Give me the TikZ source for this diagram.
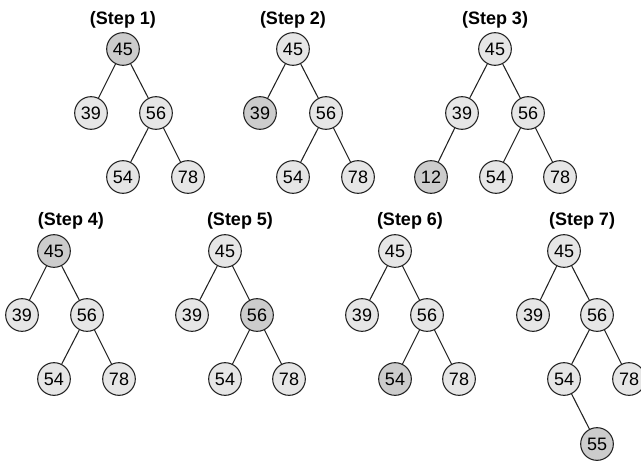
\documentclass[tikz,border=0pt]{standalone}
\usepackage{fontspec}
\setmainfont{Liberation Sans}
\usepackage{tikz}
\usetikzlibrary{positioning}
\definecolor{heaplight}{HTML}{E6E6E6}
\definecolor{heapmark}{HTML}{CCCCCC}
\definecolor{heapline}{HTML}{222222}

\begin{document}
\begin{tikzpicture}[
    x=0.75pt, y=-0.75pt,
    key/.style={circle, draw=heapline, line width=0.8pt, fill=heaplight, minimum size=24.5pt, inner sep=0pt, font=\fontsize{13.5}{16}\selectfont},
    marked/.style={key, fill=heapmark},
    title/.style={font=\fontsize{13.5}{16}\selectfont\bfseries},
    link/.style={draw=heapline, line width=0.8pt}
]
\useasboundingbox (0,0) rectangle (641,460);

% Step 1
\node[title] (t1) at (123,20) {(Step 1)};
\node[marked] (a45) at (123,49) {45};
\node[key] (a39) at (91,113) {39};
\node[key] (a56) at (156,113) {56};
\node[key] (a54) at (123,177) {54};
\node[key] (a78) at (188,177) {78};

% Step 2
\node[title] (t2) at (293,20) {(Step 2)};
\node[key] (b45) at (293,49) {45};
\node[marked] (b39) at (260,113) {39};
\node[key] (b56) at (326,113) {56};
\node[key] (b54) at (293,177) {54};
\node[key] (b78) at (358,177) {78};

% Step 3
\node[title] (t3) at (495,20) {(Step 3)};
\node[key] (c45) at (495,49) {45};
\node[key] (c39) at (462,113) {39};
\node[key] (c56) at (528,113) {56};
\node[marked] (c12) at (431,177) {12};
\node[key] (c54) at (496,177) {54};
\node[key] (c78) at (560,177) {78};

% Step 4
\node[title] (t4) at (71,221) {(Step 4)};
\node[marked] (d45) at (54,251) {45};
\node[key] (d39) at (22,315) {39};
\node[key] (d56) at (87,315) {56};
\node[key] (d54) at (54,379) {54};
\node[key] (d78) at (119,379) {78};

% Step 5
\node[title] (t5) at (240,221) {(Step 5)};
\node[key] (e45) at (225,251) {45};
\node[key] (e39) at (192,315) {39};
\node[marked] (e56) at (257,315) {56};
\node[key] (e54) at (225,379) {54};
\node[key] (e78) at (289,379) {78};

% Step 6
\node[title] (t6) at (410,221) {(Step 6)};
\node[key] (f45) at (395,251) {45};
\node[key] (f39) at (362,315) {39};
\node[key] (f56) at (427,315) {56};
\node[marked] (f54) at (395,379) {54};
\node[key] (f78) at (459,379) {78};

% Step 7
\node[title] (t7) at (582,221) {(Step 7)};
\node[key] (g45) at (564,251) {45};
\node[key] (g39) at (533,315) {39};
\node[key] (g56) at (597,315) {56};
\node[key] (g54) at (564,379) {54};
\node[key] (g78) at (629,379) {78};
\node[marked] (g55) at (597,444) {55};

% Edges
\draw[link] (a45) -- (a39);
\draw[link] (a45) -- (a56);
\draw[link] (a56) -- (a54);
\draw[link] (a56) -- (a78);

\draw[link] (b45) -- (b39);
\draw[link] (b45) -- (b56);
\draw[link] (b56) -- (b54);
\draw[link] (b56) -- (b78);

\draw[link] (c45) -- (c39);
\draw[link] (c45) -- (c56);
\draw[link] (c39) -- (c12);
\draw[link] (c56) -- (c54);
\draw[link] (c56) -- (c78);

\draw[link] (d45) -- (d39);
\draw[link] (d45) -- (d56);
\draw[link] (d56) -- (d54);
\draw[link] (d56) -- (d78);

\draw[link] (e45) -- (e39);
\draw[link] (e45) -- (e56);
\draw[link] (e56) -- (e54);
\draw[link] (e56) -- (e78);

\draw[link] (f45) -- (f39);
\draw[link] (f45) -- (f56);
\draw[link] (f56) -- (f54);
\draw[link] (f56) -- (f78);

\draw[link] (g45) -- (g39);
\draw[link] (g45) -- (g56);
\draw[link] (g56) -- (g54);
\draw[link] (g56) -- (g78);
\draw[link] (g54) -- (g55);

\end{tikzpicture}
\end{document}
